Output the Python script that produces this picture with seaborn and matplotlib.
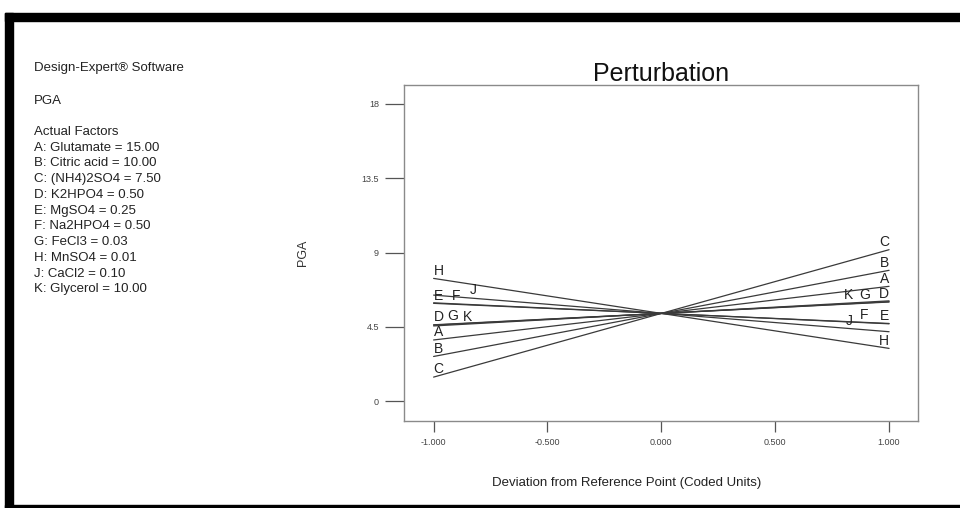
import pandas as pd
import matplotlib.pyplot as plt
import seaborn as sns
from matplotlib.patches import Rectangle

# Perturbation data (PGA at coded deviation -1, 0, +1)
factors = ['A', 'B', 'C', 'D', 'E', 'F', 'G', 'H', 'J', 'K']
pga_ref = 5.31
pga_low = [3.70, 2.70, 1.45, 4.60, 5.92, 5.95, 4.62, 7.43, 6.42, 4.55]
pga_high = [6.95, 7.92, 9.17, 6.02, 4.70, 4.68, 6.00, 3.19, 4.20, 6.07]

# where each letter sits along its line (left end / right end)
label_left_x = [-1.0, -1.0, -1.0, -1.0, -1.0, -0.92, -0.94, -1.0, -0.84, -0.87]
label_right_x = [1.0, 1.0, 1.0, 1.0, 1.0, 0.91, 0.917, 1.0, 0.84, 0.84]

side_text = ['A: Glutamate = 15.00', 'B: Citric acid = 10.00', 'C: (NH4)2SO4 = 7.50',
             'D: K2HPO4 = 0.50', 'E: MgSO4 = 0.25', 'F: Na2HPO4 = 0.50',
             'G: FeCl3 = 0.03', 'H: MnSO4 = 0.01', 'J: CaCl2 = 0.10',
             'K: Glycerol = 10.00']

x_ticks = [-1.0, -0.5, 0.0, 0.5, 1.0]
y_ticks = [0, 4.5, 9, 13.5, 18]
y_tick_labels = ['0', '4.5', '9', '13.5', '18']

rows = []
for f, lo, hi in zip(factors, pga_low, pga_high):
    rows.append({'factor': f, 'dev': -1.0, 'PGA': lo})
    rows.append({'factor': f, 'dev': 0.0, 'PGA': pga_ref})
    rows.append({'factor': f, 'dev': 1.0, 'PGA': hi})
df = pd.DataFrame(rows)

sns.set_style('white')
plt.rcParams['font.family'] = ['Liberation Sans', 'DejaVu Sans']

W, H = 960, 508
fig = plt.figure(figsize=(W / 100, H / 100), dpi=100)

# black frame of the screenshot
fig.patches.append(Rectangle((5 / W, (H - 21) / H), 1 - 5 / W, 8 / H, transform=fig.transFigure,
                             color='black', zorder=0))
fig.patches.append(Rectangle((5 / W, 0), 8 / W, (H - 13) / H, transform=fig.transFigure,
                             color='black', zorder=0))
fig.patches.append(Rectangle((5 / W, 0), 1 - 5 / W, 3 / H, transform=fig.transFigure,
                             color='black', zorder=0))

ax = fig.add_axes([404 / W, (H - 421) / H, 514 / W, 336 / H])
sns.lineplot(data=df, x='dev', y='PGA', hue='factor', palette=['#3a3a3a'] * len(factors),
             estimator=None, linewidth=0.9, legend=False, ax=ax)

def line_at(lo, hi, x):
    if x < 0:
        return pga_ref + (pga_ref - lo) * x
    return pga_ref + (hi - pga_ref) * x

for f, lo, hi, xl, xr in zip(factors, pga_low, pga_high, label_left_x, label_right_x):
    ax.annotate(f, (xl, line_at(lo, hi, xl)), xytext=(0, 0.5), textcoords='offset points',
                ha='left', va='bottom', fontsize=10, color='#222222')
    ax.annotate(f, (xr, line_at(lo, hi, xr)), xytext=(0, 0.5), textcoords='offset points',
                ha='right', va='bottom', fontsize=10, color='#222222')

ax.set_xlim(-1.13, 1.127)
ax.set_ylim(-1.21, 19.15)
ax.set_xticks(x_ticks)
ax.set_xticklabels(['%.3f' % v for v in x_ticks])
ax.set_yticks(y_ticks)
ax.set_yticklabels(y_tick_labels)
ax.tick_params(axis='y', direction='out', length=14, width=0.9, color='#555555',
               labelsize=6.5, labelcolor='#444444', pad=4, left=True)
ax.tick_params(axis='x', direction='out', length=8, width=0.9, color='#555555',
               labelsize=6.5, labelcolor='#444444', pad=4, bottom=True)
for s in ax.spines.values():
    s.set_color('#8a8a8a')
    s.set_linewidth(1.0)
ax.set_xlabel('')
ax.set_ylabel('')

fig.text(661 / W, (H - 74) / H, 'Perturbation', ha='center', va='center', fontsize=18,
         color='#111111')
fig.text(627 / W, (H - 483) / H, 'Deviation from Reference Point (Coded Units)',
         ha='center', va='center', fontsize=9.5, color='#222222')
fig.text(303 / W, 0.5 * ((H - 421) + (H - 85)) / H, 'PGA', rotation=90, ha='center',
         va='center', fontsize=9, color='#333333')

# Design-Expert side notes
tx = 34 / W
fig.text(tx, (H - 68) / H, 'Design-Expert\u00ae Software', va='center', fontsize=9.5, color='#222222')
fig.text(tx, (H - 101) / H, 'PGA', va='center', fontsize=9.5, color='#222222')
fig.text(tx, (H - 132) / H, 'Actual Factors', va='center', fontsize=9.5, color='#222222')
for i, t in enumerate(side_text):
    fig.text(tx, (H - 147.7 - 15.73 * i) / H, t, va='center', fontsize=9.5, color='#222222')

fig.savefig('out.png', dpi=100, facecolor='white')
